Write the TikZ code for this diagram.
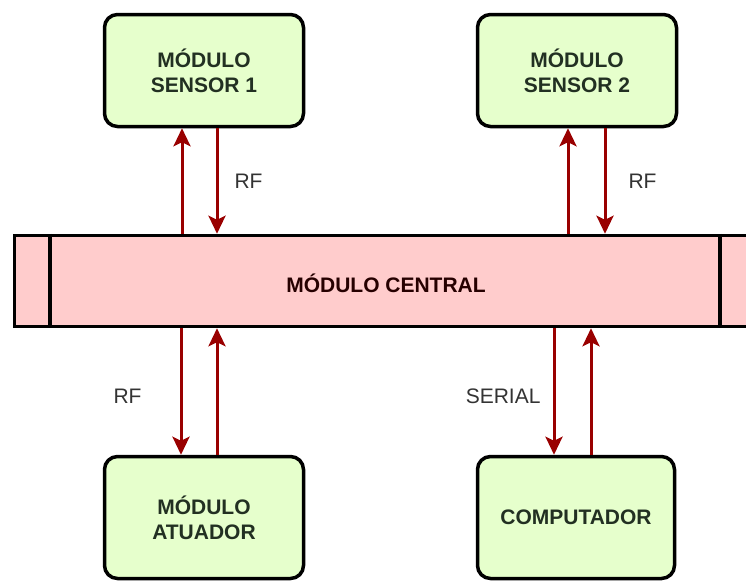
\documentclass[tikz,border=0pt]{standalone}
\usepackage{fontspec}
\setmainfont{Liberation Sans}
\usetikzlibrary{arrows.meta}
\usetikzlibrary{positioning}

\definecolor{boxgreen}{HTML}{E6FFCC}
\definecolor{barpink}{HTML}{FFCCCC}
\definecolor{linkred}{HTML}{990000}
\definecolor{boxtext}{HTML}{223022}

\begin{document}
\begin{tikzpicture}[x=1pt, y=-1pt,
      module/.style={rectangle, rounded corners=13pt, draw=black, line width=3.5pt, fill=boxgreen, minimum width=199pt, minimum height=112pt, align=center, text=boxtext, font=\fontsize{21}{25}\selectfont\bfseries},
      bar/.style={rectangle, draw=black, line width=3.5pt, fill=barpink, minimum width=761pt, minimum height=91pt},
      bartext/.style={text=black!85!red, font=\fontsize{21}{25}\selectfont\bfseries},
      link/.style={-{Stealth[length=18pt, width=17pt, inset=4pt]}, draw=linkred, line width=3pt},
      linklabel/.style={inner sep=0pt, text=black!80, font=\fontsize{21}{25}\selectfont}
      ]
      \useasboundingbox (0,0) rectangle (746,582);
      \clip (0,0) rectangle (746,582);

      % Nodes
      \node[module] (sensorA) at (204,70.5) {MÓDULO\\SENSOR 1};
      \node[module] (sensorB) at (577,70.5) {MÓDULO\\SENSOR 2};

      \node[bar] (central) at (395,281) {};
      \node[bartext] (centralLabel) at (386,283) {MÓDULO CENTRAL};
      \draw[line width=3.5pt] (central.north -| 50,0) -- (central.south -| 50,0);
      \draw[line width=3.5pt] (central.north -| 720,0) -- (central.south -| 720,0);

      \node[module, minimum height=122pt] (atuador) at (204,517.5) {MÓDULO\\ATUADOR};
      \node[module, minimum height=122pt, minimum width=197pt] (computador) at (576,517.5) {COMPUTADOR};

      % Arrows
      \draw[link] ([xshift=-22pt]sensorA.south |- central.north) -- ([xshift=-22pt]sensorA.south);
      \draw[link] ([xshift=13pt]sensorA.south) -- ([xshift=13pt]sensorA.south |- central.north)
        node[linklabel, midway, right=16pt] (rfA) {RF};

      \draw[link] ([xshift=-9pt]sensorB.south |- central.north) -- ([xshift=-9pt]sensorB.south);
      \draw[link] ([xshift=28pt]sensorB.south) -- ([xshift=28pt]sensorB.south |- central.north)
        node[linklabel, midway, right=22pt] (rfB) {RF};

      \draw[link] ([xshift=-23pt]atuador.north |- central.south) -- ([xshift=-23pt]atuador.north)
        node[linklabel, pos=0.54, left=38pt] (rfC) {RF};
      \draw[link] ([xshift=13pt]atuador.north) -- ([xshift=13pt]atuador.north |- central.south);

      \draw[link] ([xshift=-22pt]computador.north |- central.south) -- ([xshift=-22pt]computador.north)
        node[linklabel, pos=0.54, left=12pt] (serial) {SERIAL};
      \draw[link] ([xshift=15pt]computador.north) -- ([xshift=15pt]computador.north |- central.south);

    \end{tikzpicture}
\end{document}
